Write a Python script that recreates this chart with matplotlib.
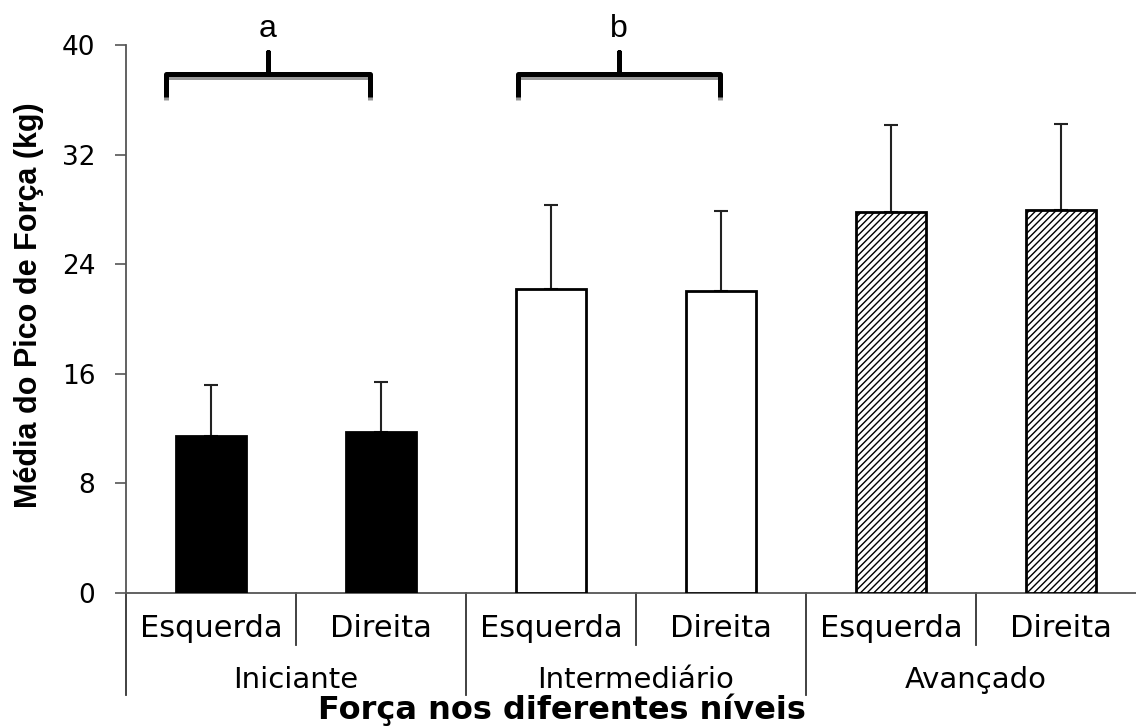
import matplotlib
matplotlib.use("Agg")
import matplotlib.pyplot as plt
import matplotlib.patheffects as pe
from matplotlib.transforms import blended_transform_factory
import numpy as np

# ---- data ----
groups = ["Iniciante", "Intermediário", "Avançado"]
sides = ["Esquerda", "Direita"]
means = [11.46, 11.75, 22.19, 22.04, 27.83, 27.96]
err_upper = [3.72, 3.65, 6.13, 5.84, 6.33, 6.27]
y_ticks = [0, 8, 16, 24, 32, 40]
brace_labels = ["a", "b"]
# brace spans (left, peak, right) in category units
brace_spans = [(-0.265, 0.335, 0.935), (1.806, 2.40, 2.994)]
brace_levels = (36.2, 37.88, 39.49)  # bottom of arms, bar, tip
brace_text_y = 40.58

fill_colors = ["black", "black", "white", "white", "white", "white"]
hatches = [None, None, None, None, "/////", "/////"]

plt.rcParams["hatch.linewidth"] = 1.0
plt.rcParams["hatch.color"] = "#333333"

fig = plt.figure(figsize=(11.36, 7.27), dpi=100)
ax = fig.add_axes([0.11092, 0.18432, 0.8979, 0.75378])

x = np.arange(len(means))
bars = ax.bar(x, means, width=0.41, color=fill_colors, edgecolor="black",
              linewidth=2.0, zorder=3)
for b, h in zip(bars, hatches):
    if h:
        b.set_hatch(h)
ax.errorbar(x, means, yerr=[np.zeros(len(means)), err_upper], fmt="none",
            ecolor="#222222", elinewidth=1.5, capsize=5, capthick=1.5, zorder=2)

ax.set_xlim(-0.5, 5.5)
ax.set_ylim(0, 40)
ax.set_yticks(y_ticks)
ax.set_yticklabels([str(t) for t in y_ticks], fontsize=19, family="DejaVu Sans")
ax.set_xticks([])
ax.tick_params(axis="y", direction="out", length=8, width=1.2, color="#555555", pad=14)
for s in ["top", "right"]:
    ax.spines[s].set_visible(False)
ax.spines["left"].set_color("#555555")
ax.spines["bottom"].set_color("#555555")
ax.spines["left"].set_linewidth(1.3)
ax.spines["bottom"].set_linewidth(1.3)

# category separators
tr_sep = blended_transform_factory(ax.transData, ax.transAxes)
for k in range(len(means) + 1):
    xs = k - 0.5
    bottom = -0.1861 if k % 2 == 0 else -0.0949
    ax.plot([xs, xs], [0, bottom], transform=tr_sep, color="#333333",
            lw=1.3, clip_on=False)

tr_txt = blended_transform_factory(ax.transData, fig.transFigure)
for i in range(len(means)):
    ax.text(i, 1 - 637 / 727, sides[i % 2], transform=tr_txt, ha="center",
            va="baseline", fontsize=22, family="DejaVu Sans")
for g, name in enumerate(groups):
    ax.text(2 * g + 0.5, 1 - 688 / 727, name, transform=tr_txt, ha="center",
            va="baseline", fontsize=21, family="DejaVu Sans")

fig.text(562 / 1136, 1 - 719 / 727, "Força nos diferentes níveis",
         ha="center", va="baseline", fontsize=23, fontweight="bold",
         family="DejaVu Sans")
fig.text(29 / 1136, 1 - 305 / 727, "Média do Pico de Força (kg)", rotation=90,
         ha="center", va="center", fontsize=22, fontweight="bold",
         family="Liberation Sans")

# braces
ylo, ymid, ytop = brace_levels
for (xl, xp, xr), lab in zip(brace_spans, brace_labels):
    bx = [xl, xl, xp, xp, xp, xr, xr]
    by = [ylo, ymid, ymid, ytop, ymid, ymid, ylo]
    ax.plot(bx, by, color="black", lw=3.6, solid_joinstyle="round",
            solid_capstyle="butt", clip_on=False, zorder=5,
            path_effects=[pe.SimpleLineShadow(offset=(0, -2.2), shadow_color="#999999",
                                              alpha=1.0), pe.Normal()])
    ax.text(xp, brace_text_y, lab, ha="center", va="baseline", fontsize=23,
            family="Liberation Sans", clip_on=False)

fig.savefig("out.png", dpi=100)
